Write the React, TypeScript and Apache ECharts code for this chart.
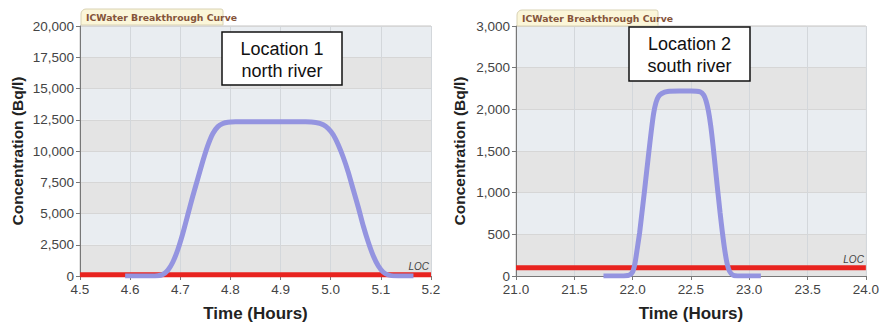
import React, { useEffect, useRef } from "react";
import * as echarts from "echarts";

// Location 1 (north river) breakthrough curve
const loc1Time = [4.59, 4.64, 4.655, 4.665, 4.675, 4.685, 4.695, 4.705, 4.715, 4.725, 4.735, 4.745, 4.755, 4.765, 4.775, 4.785, 4.795, 4.81, 4.83, 4.9, 4.95, 4.97, 4.985, 4.995, 5.005, 5.015, 5.025, 5.035, 5.045, 5.055, 5.065, 5.075, 5.085, 5.095, 5.105, 5.115, 5.125, 5.14, 5.165];
const loc1Conc = [0, 0, 20, 120, 450, 1100, 2100, 3400, 4900, 6400, 7800, 9200, 10450, 11400, 11950, 12200, 12300, 12340, 12350, 12350, 12340, 12280, 12100, 11800, 11300, 10500, 9500, 8300, 6900, 5500, 4000, 2700, 1600, 800, 300, 80, 10, 0, 0];

// Location 2 (south river) breakthrough curve
const loc2Time = [21.75, 21.9, 21.97, 22.0, 22.02, 22.04, 22.06, 22.08, 22.1, 22.12, 22.14, 22.16, 22.18, 22.2, 22.22, 22.25, 22.3, 22.4, 22.5, 22.58, 22.61, 22.63, 22.65, 22.67, 22.69, 22.71, 22.73, 22.75, 22.77, 22.79, 22.81, 22.83, 22.86, 22.9, 23.1];
const loc2Conc = [0, 0, 10, 50, 150, 330, 520, 760, 1000, 1250, 1500, 1740, 1950, 2080, 2150, 2190, 2215, 2220, 2220, 2210, 2170, 2100, 1980, 1800, 1560, 1290, 1020, 760, 520, 310, 150, 60, 10, 0, 0];

// Level of concern
const locLevel = 100;

// Axes
const xRange1 = [4.5, 5.2, 0.1];
const yRange1 = [0, 20000, 2500];
const xRange2 = [21.0, 24.0, 0.5];
const yRange2 = [0, 3000, 500];

const tabTitle = "ICWater Breakthrough Curve";
const boxText1 = ["Location 1", "north river"];
const boxText2 = ["Location 2", "south river"];
const xTitle = "Time (Hours)";
const yTitle = "Concentration (Bq/l)";

const FONT = "'Liberation Sans', Arial, sans-serif";

function zip(xs: number[], ys: number[]) {
  return xs.map((x, i) => [x, ys[i]]);
}

export default function App() {
  const ref = useRef<HTMLDivElement>(null);
  useEffect(() => {
    if (!ref.current) return;
    const chart = echarts.init(ref.current, null, { renderer: "svg" });

    const grids = [
      { left: 80, top: 26, width: 351, height: 257 },
      { left: 516, top: 26, width: 354, height: 258 },
    ];

    const xAxisBase = (idx: number, r: number[]) => ({
      type: "value",
      gridIndex: idx,
      min: r[0],
      max: r[1],
      interval: r[2],
      name: xTitle,
      nameLocation: "middle",
      nameGap: 29,
      nameTextStyle: { fontFamily: FONT, fontWeight: "bold", fontSize: 17, color: "#222" },
      axisLine: { show: true, lineStyle: { color: "#777", width: 1 } },
      axisTick: { show: true, length: 4, lineStyle: { color: "#777" } },
      axisLabel: {
        fontFamily: FONT,
        fontSize: 13.5,
        lineHeight: 13,
        color: "#444",
        margin: 7,
        formatter: (v: number) => v.toFixed(1),
      },
      splitLine: { show: true, lineStyle: { color: "#d3d7db", width: 1 } },
    });

    const yAxisBase = (idx: number, r: number[], gap: number) => ({
      type: "value",
      gridIndex: idx,
      min: r[0],
      max: r[1],
      interval: r[2],
      name: yTitle,
      nameLocation: "middle",
      nameRotate: 90,
      nameGap: gap,
      nameTextStyle: { fontFamily: FONT, fontWeight: "bold", fontSize: 15.5, color: "#222" },
      axisLine: { show: true, lineStyle: { color: "#777", width: 1 } },
      axisTick: { show: true, length: 4, lineStyle: { color: "#777" } },
      axisLabel: {
        fontFamily: FONT,
        fontSize: 13.5,
        lineHeight: 12,
        color: "#444",
        margin: 6,
        formatter: (v: number) => v.toLocaleString("en-US"),
      },
      splitLine: { show: true, lineStyle: { color: "#d6d6d6", width: 1 } },
      splitArea: { show: true, areaStyle: { color: ["#e4e4e4", "#e9edf1"] } },
    });

    const curve = (idx: number, data: number[][]) => ({
      type: "line",
      xAxisIndex: idx,
      yAxisIndex: idx,
      data,
      smooth: 0.2,
      showSymbol: false,
      z: 5,
      lineStyle: { color: "#9494e0", width: 5 },
      silent: true,
    });

    const loc = (idx: number, r: number[]) => ({
      type: "line",
      xAxisIndex: idx,
      yAxisIndex: idx,
      data: [
        [r[0], locLevel],
        [r[1], locLevel],
      ],
      showSymbol: false,
      z: 3,
      lineStyle: { color: "#e8231f", width: 5 },
      silent: true,
      markLine: {
        silent: true,
        symbol: "none",
        lineStyle: { color: "rgba(0,0,0,0)", width: 0 },
        label: {
          show: true,
          position: "insideEndTop",
          formatter: "LOC",
          fontFamily: FONT,
          fontStyle: "italic",
          fontSize: 10,
          color: "#444",
          distance: [2, 3],
        },
        data: [{ yAxis: locLevel }],
      },
    });

    const tab = (x: number, y: number, w: number) => ({
      type: "group",
      x,
      y,
      z: 100,
      children: [
        {
          type: "rect",
          z: 100,
          shape: { x: 0, y: 0, width: w, height: 16, r: [5, 2, 0, 0] },
          style: { fill: "#fbf6d9", stroke: "#d9d2b4", lineWidth: 1 },
        },
        {
          type: "text",
          z: 101,
          x: 5,
          y: 8.5,
          style: {
            text: tabTitle,
            fill: "#85543a",
            fontFamily: "'DejaVu Sans', sans-serif",
            fontWeight: "bold",
            fontSize: 9.3,
            align: "left",
            verticalAlign: "middle",
          },
        },
      ],
    });

    const box = (x: number, y: number, w: number, h: number, lines: string[]) => ({
      type: "group",
      x,
      y,
      z: 100,
      children: [
        {
          type: "rect",
          z: 100,
          shape: { x: 0, y: 0, width: w, height: h },
          style: { fill: "#ffffff", stroke: "#111111", lineWidth: 1.5 },
        },
        {
          type: "text",
          z: 101,
          x: w / 2,
          y: 8,
          style: {
            text: lines[0],
            fill: "#111111",
            fontFamily: FONT,
            fontSize: 18,
            align: "center",
            verticalAlign: "top",
          },
        },
        {
          type: "text",
          z: 101,
          x: w / 2,
          y: 30,
          style: {
            text: lines[1],
            fill: "#111111",
            fontFamily: FONT,
            fontSize: 18,
            align: "center",
            verticalAlign: "top",
          },
        },
      ],
    });

    chart.setOption({
      animation: false,
      backgroundColor: "#ffffff",
      grid: grids.map((g) => ({
        ...g,
        show: true,
        borderColor: "#c4c4c4",
        borderWidth: 1,
        backgroundColor: "transparent",
      })),
      xAxis: [xAxisBase(0, xRange1), xAxisBase(1, xRange2)],
      yAxis: [yAxisBase(0, yRange1, 55), yAxisBase(1, yRange2, 49)],
      series: [loc(0, xRange1), curve(0, zip(loc1Time, loc1Conc)), loc(1, xRange2), curve(1, zip(loc2Time, loc2Conc))],
      graphic: [
        tab(81, 9, 142),
        tab(517, 10, 141),
        box(222, 32, 120, 53, boxText1),
        box(629, 27, 121, 54, boxText2),
      ],
    });
    return () => chart.dispose();
  }, []);
  return <div ref={ref} style={{ position: "fixed", left: 0, top: 0, width: 882, height: 327 }} />;
}
